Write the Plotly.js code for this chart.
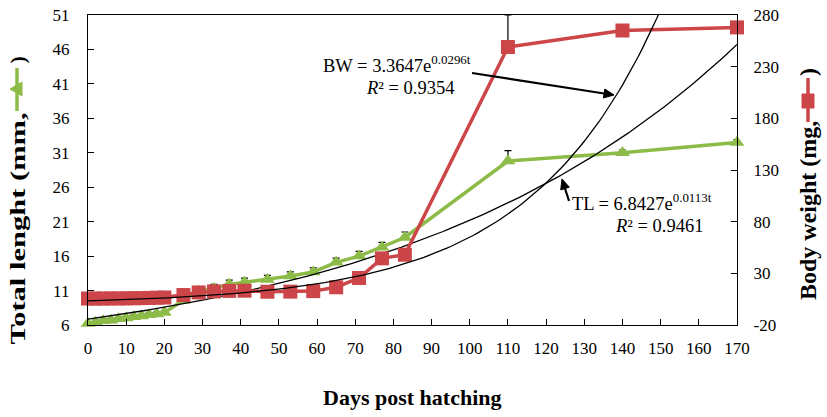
<!DOCTYPE html>
<html>
<head>
<meta charset="utf-8">
<script src="https://cdn.plot.ly/plotly-3.0.1.min.js"></script>
<style>html,body{margin:0;padding:0;background:#fff}#chart{width:827px;height:417px}</style>
</head>
<body>
<div id="chart"></div>
<script>
// ---- data ----
const days = [0,2,4,6,8,10,12,14,16,18,20,25,29,33,37,41,47,53,59,65,71,77,83,110,140,170];
const totalLength = [6.2,6.4,6.6,6.7,6.9,7.0,7.2,7.3,7.5,7.6,7.8,9.6,10.9,11.3,11.9,12.2,12.6,13.1,13.7,15.1,16.0,17.3,18.7,29.8,31.0,32.5];
const totalLengthErr = [0.3,0.3,0.3,0.3,0.3,0.3,0.3,0.3,0.3,0.3,0.3,0.5,0.6,0.6,0.6,0.6,0.6,0.6,0.6,0.6,0.7,0.7,0.8,1.5,0.4,0.4];
const bodyWeight = [5.6,5.6,5.6,5.7,5.7,5.8,5.9,6.0,6.2,6.4,6.6,9.0,11.5,12.5,13.0,13.2,12.2,12.3,12.8,16.5,25.5,44.5,48.0,249,265,268];
const bodyWeightErr = [1,1,1,1,1,1,1,1,1,1,1,1.5,2,2,2,2,2,2,2,2,2,2,2,31,2,2];
// fitted trend equations shown on the chart
const tlFit = {a: 6.8427, b: 0.0113, r2: "0.9461"};
const bwFit = {a: 3.3647, b: 0.0296, r2: "0.9354"};
const fitDays = [];
for (let t = 0; t <= 170; t += 1) fitDays.push(t);
const tlFitY = fitDays.map(t => tlFit.a * Math.exp(tlFit.b * t));
const bwFitY = fitDays.map(t => bwFit.a * Math.exp(bwFit.b * t));

const xTicks = [0,10,20,30,40,50,60,70,80,90,100,110,120,130,140,150,160,170];
const yLeftTicks = [6,11,16,21,26,31,36,41,46,51];
const yRightTicks = [-20,30,80,130,180,230,280];

// ---- layout helpers ----
const W = 827, H = 417;
const M = {l: 88, r: 90, t: 15, b: 92};
const PW = W - M.l - M.r, PH = H - M.t - M.b;
const px = v => (v - M.l) / PW;
const py = v => (H - M.b - v) / PH;

const FONT = "Liberation Serif, Times New Roman, serif";
const GREEN = "#8dbb48";
const RED = "#cc4548";

// arrow drawn as a line + filled head (pixel positions converted to paper)
function arrowShapes(tx, ty, hx, hy, len, half) {
  const dx = hx - tx, dy = hy - ty, L = Math.hypot(dx, dy);
  const ux = dx / L, uy = dy / L, nx = -uy, ny = ux;
  const bx = hx - len * ux, by = hy - len * uy;
  return [
    {type: "line", xref: "paper", yref: "paper", x0: px(tx), y0: py(ty), x1: px(bx), y1: py(by),
     line: {color: "#000", width: 2.2}},
    {type: "path", xref: "paper", yref: "paper",
     path: `M ${px(hx)} ${py(hy)} L ${px(bx + half * nx)} ${py(by + half * ny)} L ${px(bx - half * nx)} ${py(by - half * ny)} Z`,
     fillcolor: "#000", line: {color: "#000", width: 1}}
  ];
}

const traces = [
  {
    x: days, y: totalLength, yaxis: "y", type: "scatter", mode: "lines+markers",
    line: {color: GREEN, width: 3.5},
    marker: {symbol: "triangle-up", size: 13, color: GREEN},
    error_y: {type: "data", symmetric: false, array: totalLengthErr, arrayminus: totalLength.map(() => 0), color: "#000", thickness: 1.2, width: 3.5},
    cliponaxis: false, hoverinfo: "skip"
  },
  {
    x: days, y: bodyWeight, yaxis: "y2", type: "scatter", mode: "lines+markers",
    line: {color: RED, width: 3.5},
    marker: {symbol: "square", size: 14, color: RED},
    error_y: {type: "data", symmetric: false, array: bodyWeightErr, arrayminus: bodyWeight.map(() => 0), color: "#000", thickness: 1.2, width: 3.5},
    cliponaxis: false, hoverinfo: "skip"
  },
  {
    x: fitDays, y: tlFitY, yaxis: "y", type: "scatter", mode: "lines",
    line: {color: "#000", width: 1.3}, hoverinfo: "skip"
  },
  {
    x: fitDays, y: bwFitY, yaxis: "y2", type: "scatter", mode: "lines",
    line: {color: "#000", width: 1.3}, hoverinfo: "skip"
  }
];

const tickFont = {family: FONT, size: 17, color: "#000"};
const titleFont = {family: FONT, size: 22, color: "#000"};
const rightTitleFont = {family: FONT, size: 24, color: "#000"};
const eqFont = {family: FONT, size: 18.5, color: "#000"};

const layout = {
  width: W, height: H,
  margin: M,
  paper_bgcolor: "#fff", plot_bgcolor: "#fff",
  showlegend: false,
  xaxis: {
    range: [0, 170], tickvals: xTicks, ticktext: xTicks.map(String),
    ticks: "inside", ticklen: 6, tickcolor: "#000", tickwidth: 1,
    showline: true, linecolor: "#000", linewidth: 1.2, mirror: true,
    showgrid: false, zeroline: false, tickfont: tickFont, ticklabelstandoff: 7
  },
  yaxis: {
    range: [6, 51], tickvals: yLeftTicks, ticktext: yLeftTicks.map(String),
    ticks: "inside", ticklen: 6, tickcolor: "#000", tickwidth: 1,
    showline: true, linecolor: "#000", linewidth: 1.2,
    showgrid: false, zeroline: false, tickfont: tickFont, ticklabelstandoff: 14
  },
  yaxis2: {
    range: [-20, 280], tickvals: yRightTicks, ticktext: yRightTicks.map(String),
    overlaying: "y", side: "right",
    ticks: "inside", ticklen: 6, tickcolor: "#000", tickwidth: 1,
    showline: true, linecolor: "#000", linewidth: 1.2,
    showgrid: false, zeroline: false, tickfont: tickFont, ticklabelstandoff: 12
  },
  annotations: [
    // axis titles
    {xref: "paper", yref: "paper", x: px(412), y: py(398), text: "<b>Days post hatching</b>",
     showarrow: false, font: titleFont, xanchor: "center", yanchor: "middle"},
    {xref: "paper", yref: "paper", x: px(17), y: py(229), text: "<b>Total lenght (mm,</b>",
     textangle: -90, showarrow: false, font: titleFont, xanchor: "center", yanchor: "middle"},
    {xref: "paper", yref: "paper", x: px(17), y: py(66), text: "<b>)</b>",
     textangle: -90, showarrow: false, font: titleFont, xanchor: "center", yanchor: "bottom"},
    {xref: "paper", yref: "paper", x: px(808), y: py(210), text: "<b>Body weight (mg,</b>",
     textangle: -90, showarrow: false, font: rightTitleFont, xanchor: "center", yanchor: "middle"},
    {xref: "paper", yref: "paper", x: px(808), y: py(78), text: "<b>)</b>",
     textangle: -90, showarrow: false, font: rightTitleFont, xanchor: "center", yanchor: "bottom"},
    // equations
    {xref: "paper", yref: "paper", x: px(473), y: py(64), text: "BW = " + bwFit.a.toFixed(4) + "e<sup>" + bwFit.b.toFixed(4) + "t</sup>",
     showarrow: false, font: eqFont, xanchor: "right", yanchor: "middle"},
    {xref: "paper", yref: "paper", x: px(456), y: py(88), text: "<i>R</i>² = " + bwFit.r2,
     showarrow: false, font: eqFont, xanchor: "right", yanchor: "middle"},
    {xref: "paper", yref: "paper", x: px(570), y: py(202), text: "TL = " + tlFit.a.toFixed(4) + "e<sup>" + tlFit.b.toFixed(4) + "t</sup>",
     showarrow: false, font: eqFont, xanchor: "left", yanchor: "middle"},
    {xref: "paper", yref: "paper", x: px(705), y: py(226), text: "<i>R</i>² = " + tlFit.r2,
     showarrow: false, font: eqFont, xanchor: "right", yanchor: "middle"}
  ],
  shapes: [
    // legend key in left axis title (green line + triangle rotated)
    {type: "line", xref: "paper", yref: "paper", x0: px(17), x1: px(17), y0: py(68), y1: py(111),
     line: {color: GREEN, width: 3.5}},
    {type: "path", xref: "paper", yref: "paper",
     path: `M ${px(10)} ${py(89)} L ${px(22)} ${py(82)} L ${px(22)} ${py(96)} Z`,
     fillcolor: GREEN, line: {color: GREEN, width: 1}},
    // legend key in right axis title (red line + square)
    {type: "line", xref: "paper", yref: "paper", x0: px(808), x1: px(808), y0: py(78), y1: py(122),
     line: {color: RED, width: 3.5}},
    {type: "rect", xref: "paper", yref: "paper", x0: px(802), x1: px(814), y0: py(94), y1: py(108),
     fillcolor: RED, line: {color: RED, width: 1}},
    // arrows pointing from the equations to their curves
    ...arrowShapes(472, 73, 614, 95, 10, 4.5),
    ...arrowShapes(569, 201, 562, 179, 10, 4.5)
  ]
};

Plotly.newPlot("chart", traces, layout, {displayModeBar: false, staticPlot: true}).then(() => {
  // the reference's left axis title is drawn stretched along its length
  const ann = document.querySelector('.annotation[data-index="1"] text.annotation-text');
  if (ann) {
    ann.setAttribute("textLength", "232");
    ann.setAttribute("lengthAdjust", "spacingAndGlyphs");
  }
});
</script>
</body>
</html>
